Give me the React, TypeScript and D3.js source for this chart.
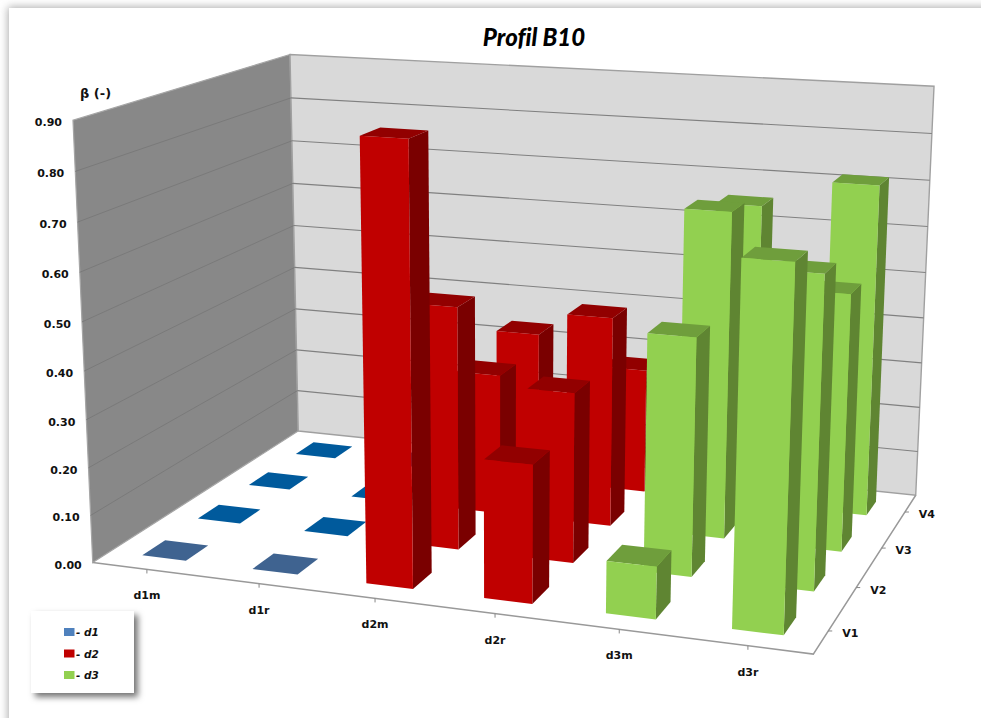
import React from "react";
import * as d3 from "d3";

const categories = ["d1m", "d1r", "d2m", "d2r", "d3m", "d3r"];
const seriesNames = ["V1", "V2", "V3", "V4"];
const yTicks = [0, 0.1, 0.2, 0.3, 0.4, 0.5, 0.6, 0.7, 0.8, 0.9];
// values per category, V1..V4
const d1m = [0, 0, 0, 0];
const d1r = [0, 0, 0, 0];
const d2m = [0.89, 0.51, 0.305, 0.335];
const d2r = [0.28, 0.355, 0.45, 0.275];
const d3m = [0.105, 0.49, 0.69, 0.655];
const d3r = [0.71, 0.635, 0.54, 0.715];
const table = [d1m, d1r, d2m, d2r, d3m, d3r];
const groups = ["d1", "d1", "d2", "d2", "d3", "d3"];
const legendNames = ["d1", "d2", "d3"];

const W = 981, H = 718;
const sans = "'DejaVu Sans', sans-serif";

// camera calibration: (x,z,y in 0..1) -> screen, fitted from the box corners
const calib: number[][] = [
  [0, 0, 0, 93, 561], [1, 0, 0, 813, 656], [1, 1, 0, 916, 493], [0, 1, 0, 298, 433],
  [0, 0, 1, 73, 120], [0, 1, 1, 290, 54], [1, 1, 1, 934, 87],
];
function fit(): number[] {
  const A: number[][] = [], b: number[] = [];
  for (const [x, z, y, u, v] of calib) {
    A.push([1, x, z, y, 0, 0, 0, 0, -u * x, -u * z, -u * y]); b.push(u);
    A.push([0, 0, 0, 0, 1, x, z, y, -v * x, -v * z, -v * y]); b.push(v);
  }
  const n = 11;
  const M = d3.range(n).map((i) => [
    ...d3.range(n).map((j) => d3.sum(A, (r) => r[i] * r[j])),
    d3.sum(A, (r, k) => r[i] * b[k]),
  ]);
  for (let i = 0; i < n; i++) {
    let p = i;
    for (let k = i + 1; k < n; k++) if (Math.abs(M[k][i]) > Math.abs(M[p][i])) p = k;
    [M[i], M[p]] = [M[p], M[i]];
    for (let k = 0; k < n; k++) {
      if (k === i) continue;
      const f = M[k][i] / M[i][i];
      for (let j = i; j <= n; j++) M[k][j] -= f * M[i][j];
    }
  }
  return M.map((r, i) => r[n] / r[i]);
}
const c = fit();
const project = (x: number, z: number, y: number): [number, number] => {
  const w = 1 + c[8] * x + c[9] * z + c[10] * y;
  return [(c[0] + c[1] * x + c[2] * z + c[3] * y) / w, (c[4] + c[5] * x + c[6] * z + c[7] * y) / w];
};

const xBand = d3.scaleBand<string>().domain(categories).range([0, 1]).paddingInner(0.6).paddingOuter(0.295);
const zBand = d3.scaleBand<string>().domain(seriesNames).range([0, 1]).paddingInner(0.6).paddingOuter(0.295);
const yScale = d3.scaleLinear().domain([0, 0.9]).range([0, 1]);
const line = d3.line<[number, number]>();
const poly = (pts: [number, number][]) => line(pts) + "Z";
const xMid = (k: string) => xBand(k)! + xBand.bandwidth() / 2;
const zMid = (k: string) => zBand(k)! + zBand.bandwidth() / 2;

const faces: Record<string, { front: string; top: string; side: string }> = {
  d2: { front: "#c00000", top: "#920000", side: "#7a0000" },
  d3: { front: "#92d050", top: "#6f9e3c", side: "#5f8532" },
};
const legendColor: Record<string, string> = { d1: "#4f81bd", d2: "#c00000", d3: "#92d050" };
const flatBlue = ["#3f6390", "#005a9c", "#005a9c", "#005a9c"];

export default function App() {
  const bars: React.ReactNode[] = [];
  for (let s = seriesNames.length - 1; s >= 0; s--) {
    categories.forEach((cat, i) => {
      const v = yScale(table[i][s]);
      const g = groups[i];
      const x0 = xBand(cat)!, x1 = x0 + xBand.bandwidth();
      const z0 = zBand(seriesNames[s])!, z1 = z0 + zBand.bandwidth();
      const top = poly([project(x0, z0, v), project(x1, z0, v), project(x1, z1, v), project(x0, z1, v)]);
      if (g === "d1") {
        bars.push(<path key={cat + s} d={top} fill={flatBlue[s]} />);
        return;
      }
      const col = faces[g];
      bars.push(
        <g key={cat + s}>
          <path d={poly([project(x1, z0, 0), project(x1, z1, 0), project(x1, z1, v), project(x1, z0, v)])} fill={col.side} />
          <path d={top} fill={col.top} />
          <path d={poly([project(x0, z0, 0), project(x1, z0, 0), project(x1, z0, v), project(x0, z0, v)])} fill={col.front} />
        </g>
      );
    });
  }
  return (
    <svg width={W} height={H} style={{ position: "fixed", left: 0, top: 0 }}>
      <defs>
        <filter id="card" x="-5%" y="-5%" width="110%" height="110%">
          <feGaussianBlur stdDeviation="4" />
        </filter>
        <filter id="leg" x="-30%" y="-30%" width="160%" height="160%">
          <feDropShadow dx="4" dy="4" stdDeviation="3" floodColor="#000" floodOpacity="0.55" />
        </filter>
      </defs>
      <rect width={W} height={H} fill="#fff" />
      <rect x={8} y={7} width={1100} height={900} fill="#aaa" filter="url(#card)" />
      <rect x={9} y={8} width={1100} height={900} fill="#fff" />

      {/* walls */}
      <path d={poly([project(0, 0, 0), project(0, 1, 0), project(0, 1, 1), project(0, 0, 1)])} fill="#888" stroke="#a6a6a6" strokeWidth={1.2} />
      <path d={poly([project(0, 1, 0), project(1, 1, 0), project(1, 1, 1), project(0, 1, 1)])} fill="#d9d9d9" stroke="#a0a0a0" strokeWidth={1.4} />
      {yTicks.slice(1, -1).map((t) => {
        const y = yScale(t);
        return (
          <g key={t}>
            <path d={line([project(0, 0, y), project(0, 1, y)])!} stroke="#7a7a7a" strokeWidth={1} fill="none" />
            <path d={line([project(0, 1, y), project(1, 1, y)])!} stroke="#808080" strokeWidth={1.1} fill="none" />
          </g>
        );
      })}
      {/* floor axes */}
      <path d={line([project(0, 0, 0), project(1, 0, 0), project(1, 1, 0)])!} stroke="#999" strokeWidth={1.5} fill="none" />
      {categories.map((cat) => {
        const p = project(xMid(cat), 0, 0);
        return (
          <g key={cat}>
            <line x1={p[0]} y1={p[1]} x2={p[0]} y2={p[1] + 4} stroke="#888" />
            <text x={p[0]} y={p[1] + 30} textAnchor="middle" fontFamily={sans} fontWeight={700} fontSize={11} fill="#111">{cat}</text>
          </g>
        );
      })}
      {seriesNames.map((s) => {
        const p = project(1, zMid(s), 0);
        return (
          <g key={s}>
            <line x1={p[0]} y1={p[1]} x2={p[0] + 4} y2={p[1]} stroke="#888" />
            <text x={p[0] + 22} y={p[1] + 6} textAnchor="middle" fontFamily={sans} fontWeight={700} fontSize={11} fill="#111">{s}</text>
          </g>
        );
      })}
      {yTicks.map((t) => {
        const p = project(0, 0, yScale(t));
        return (
          <text key={t} x={p[0] - 11} y={p[1] + 6} textAnchor="end" fontFamily={sans} fontWeight={700} fontSize={11} fill="#111">{t.toFixed(2)}</text>
        );
      })}

      {bars}

      <text x={534} y={46} textAnchor="middle" fontFamily="Lato, sans-serif" fontWeight={900} fontStyle="italic" fontSize={24} fill="#000" style={{ fontVariantLigatures: "none" }}>Profil B10</text>
      <text x={80} y={98} fontFamily={sans} fontWeight={700} fontSize={13} fill="#111">β (-)</text>

      {/* legend */}
      <rect x={31} y={611} width={103} height={82} fill="#fff" filter="url(#leg)" />
      {legendNames.map((n, i) => {
        const y = 632 + i * 21.5;
        return (
          <g key={n}>
            <rect x={64} y={y - 4} width={10.5} height={8} fill={legendColor[n]} />
            <text x={76} y={y + 4} fontFamily={sans} fontWeight={700} fontStyle="italic" fontSize={10.5} fill="#111">- {n}</text>
          </g>
        );
      })}
    </svg>
  );
}
